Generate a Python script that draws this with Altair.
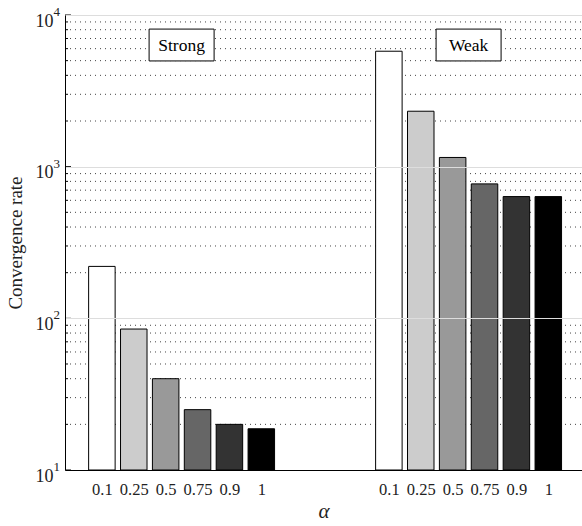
import altair as alt
import pandas as pd

# ---- data ----
alpha_labels = ["0.1", "0.25", "0.5", "0.75", "0.9", "1"]
groups = ["Strong", "Weak"]
strong_rates = [220, 85, 40, 25, 20, 18.7]
weak_rates = [5770, 2320, 1150, 770, 635, 635]
gray_colors = ["#ffffff", "#cccccc", "#999999", "#666666", "#333333", "#000000"]

major_ticks = [10, 100, 1000, 10000]
exponents = ["1", "2", "3", "4"]
minor_ticks = [k * d for d in [10, 100, 1000] for k in range(2, 10)]

# group g occupies slots starting at 1 + 9*g (MATLAB-like grouped layout)
rows = []
for g, (name, vals) in enumerate(zip(groups, [strong_rates, weak_rates])):
    for i, (a, v) in enumerate(zip(alpha_labels, vals)):
        rows.append({"group": name, "alpha": a, "pos": 1 + 9 * g + i, "rate": v})
bars_df = pd.DataFrame(rows)

box_df = pd.DataFrame({"label": groups, "pos": [3.5, 12.5], "yv": [6340, 6340]})
major_df = pd.DataFrame({"v": major_ticks, "e": exponents})
minor_df = pd.DataFrame({"v": minor_ticks})

FONT = "Liberation Serif"
x_scale = alt.Scale(domain=[0, 15.9], nice=False, zero=False)
y_scale = alt.Scale(type="log", domain=[10, 10000], nice=False)

label_arr = "[" + ",".join("'" + a + "'" for a in alpha_labels) + "]"
tick_vals = [1 + 9 * g + i for g in range(2) for i in range(6)]

x_axis = alt.Axis(
    values=tick_vals,
    labelExpr=label_arr + "[(datum.value - 1) % 9]",
    title="α",
    titleFont=FONT, titleFontSize=21, titleFontStyle="italic", titleFontWeight="normal",
    titleColor="#222", titlePadding=3,
    labelFont=FONT, labelFontSize=16.5, labelColor="#222", labelPadding=11,
    labelOverlap=False, labelFlush=False,
    ticks=False, grid=False, domainColor="#000", domainWidth=1, zindex=2,
)
y_axis = alt.Axis(
    values=major_ticks,
    labelExpr="'10'",
    labelFont=FONT, labelFontSize=18, labelColor="#222", labelPadding=12,
    labelBaseline="top", labelOffset=-3,
    title="Convergence rate",
    titleFont=FONT, titleFontSize=19, titleFontWeight="normal", titleColor="#222",
    titlePadding=10,
    ticks=False, grid=True, gridColor="#dddddd", gridWidth=1,
    domainColor="#000", domainWidth=1, zindex=2,
)

base_x = alt.X("pos:Q", scale=x_scale, axis=x_axis)

minor_grid = alt.Chart(minor_df).mark_rule(
    color="#444", strokeWidth=1, strokeDash=[1, 4]
).encode(x=alt.value(0), x2=alt.value(517), y=alt.Y("v:Q", scale=y_scale, axis=y_axis))

bars = alt.Chart(bars_df).mark_bar(size=26.5, stroke="#000", strokeWidth=1).encode(
    x=base_x,
    y=alt.Y("rate:Q", scale=y_scale, axis=y_axis),
    y2=alt.datum(10),
    fill=alt.Color("alpha:N", scale=alt.Scale(domain=alpha_labels, range=gray_colors), legend=None),
)

boxes = alt.Chart(box_df).mark_point(
    shape="M-1,-0.49H1V0.49H-1Z", size=4225, filled=True, fill="#fff",
    stroke="#000", strokeWidth=1, opacity=1,
).encode(x=alt.X("pos:Q", scale=x_scale), y=alt.Y("yv:Q", scale=y_scale))

box_text = alt.Chart(box_df).mark_text(
    font=FONT, fontSize=17.5, color="#000", baseline="middle", align="center", dy=1
).encode(x=alt.X("pos:Q", scale=x_scale), y=alt.Y("yv:Q", scale=y_scale), text="label:N")

major_tick_marks = alt.Chart(major_df).mark_rule(color="#000", strokeWidth=1).encode(
    x=alt.value(0), x2=alt.value(6), y=alt.Y("v:Q", scale=y_scale)
)
minor_tick_marks = alt.Chart(minor_df).mark_rule(color="#000", strokeWidth=1).encode(
    x=alt.value(0), x2=alt.value(3), y=alt.Y("v:Q", scale=y_scale)
)

exp_text = alt.Chart(major_df).mark_text(
    font=FONT, fontSize=13, color="#222", align="left", baseline="top", dy=-9
).encode(x=alt.value(-11.5), y=alt.Y("v:Q", scale=y_scale), text="e:N")

chart = alt.layer(
    minor_grid, bars, boxes, box_text, major_tick_marks, minor_tick_marks, exp_text
).properties(
    width=517, height=455,
    autosize=alt.AutoSizeParams(type="none"),
    padding={"left": 65, "top": 15, "right": 0, "bottom": 56},
).configure_view(stroke=None).configure(background="#ffffff", font=FONT)

chart.save("out.html", embed_options={"renderer": "svg", "actions": False})
